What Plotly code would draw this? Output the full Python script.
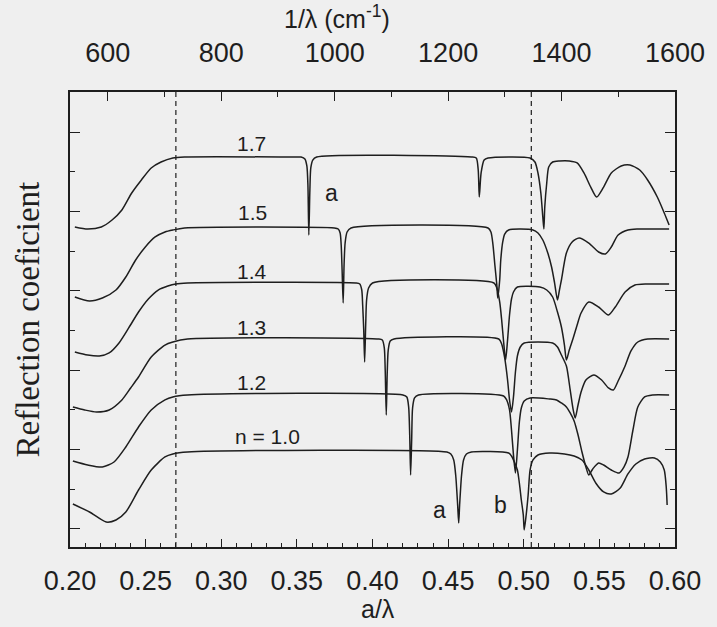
import plotly.graph_objects as go

# ---------------- data ----------------
# bottom axis: normalised frequency a/lambda ; y: reflection (arbitrary offset units)
x_n17 = [0.2032, 0.2117, 0.2207, 0.2278, 0.2343, 0.2408, 0.2472, 0.2537, 0.2602, 0.2680, 0.2757,
         0.3489, 0.3528, 0.3553, 0.3566, 0.3573, 0.3579, 0.3586, 0.3592, 0.3605, 0.3631,
         0.4654, 0.4686, 0.4699, 0.4706, 0.4718, 0.4738, 0.4764,
         0.5042, 0.5074, 0.5094, 0.5113, 0.5126, 0.5133, 0.5139, 0.5152, 0.5165, 0.5191, 0.5236,
         0.5301, 0.5353, 0.5398, 0.5443, 0.5482, 0.5528, 0.5579, 0.5644, 0.5702, 0.5767, 0.5819,
         0.5883, 0.5929, 0.5961]
y_n17 = [3.804, 3.778, 3.804, 3.892, 4.018, 4.232, 4.396, 4.547, 4.622, 4.673, 4.685,
         4.685, 4.685, 4.660, 4.572, 4.333, 3.703, 4.270, 4.547, 4.647, 4.685,
         4.685, 4.673, 4.521, 4.181, 4.484, 4.647, 4.673,
         4.673, 4.622, 4.484, 4.232, 3.930, 3.778, 4.055, 4.358, 4.559, 4.622, 4.635,
         4.635, 4.610, 4.484, 4.307, 4.181, 4.307, 4.484, 4.572, 4.584, 4.521, 4.396,
         4.181, 3.980, 3.829]

x_n15 = [0.2032, 0.2129, 0.2214, 0.2304, 0.2369, 0.2434, 0.2498, 0.2563, 0.2628, 0.2680, 0.2757,
         0.3748, 0.3773, 0.3786, 0.3793, 0.3799, 0.3806, 0.3812, 0.3819, 0.3832, 0.3858,
         0.4764, 0.4783, 0.4796, 0.4809, 0.4822, 0.4828, 0.4841, 0.4848, 0.4861, 0.4874, 0.4900,
         0.5061, 0.5094, 0.5126, 0.5159, 0.5184, 0.5204, 0.5223, 0.5236, 0.5249, 0.5282, 0.5320,
         0.5366, 0.5430, 0.5495, 0.5540, 0.5579, 0.5624, 0.5689, 0.5754, 0.5961]
y_n15 = [2.922, 2.872, 2.909, 3.010, 3.174, 3.388, 3.552, 3.678, 3.741, 3.766, 3.791,
         3.791, 3.778, 3.728, 3.577, 3.262, 2.846, 3.325, 3.602, 3.741, 3.791,
         3.791, 3.741, 3.589, 3.325, 3.073, 2.909, 3.136, 3.388, 3.615, 3.715, 3.766,
         3.766, 3.728, 3.640, 3.476, 3.300, 3.098, 2.884, 3.010, 3.136, 3.476, 3.615,
         3.665, 3.602, 3.489, 3.464, 3.552, 3.703, 3.766, 3.778, 3.778]

x_n14 = [0.2032, 0.2117, 0.2194, 0.2259, 0.2324, 0.2388, 0.2453, 0.2518, 0.2583, 0.2647, 0.2699, 0.2777,
         0.3890, 0.3916, 0.3929, 0.3935, 0.3942, 0.3948, 0.3955, 0.3961, 0.3974, 0.4000,
         0.4803, 0.4822, 0.4841, 0.4854, 0.4867, 0.4880, 0.4893, 0.4906, 0.4919, 0.4932, 0.4958,
         0.5107, 0.5152, 0.5191, 0.5223, 0.5249, 0.5269, 0.5282, 0.5301, 0.5327, 0.5353, 0.5379,
         0.5430, 0.5495, 0.5560, 0.5605, 0.5670, 0.5735, 0.5819, 0.5961]
y_n14 = [2.229, 2.191, 2.179, 2.217, 2.343, 2.532, 2.733, 2.897, 3.010, 3.060, 3.086, 3.098,
         3.098, 3.086, 3.010, 2.821, 2.506, 2.103, 2.569, 2.884, 3.035, 3.098,
         3.098, 3.035, 2.859, 2.632, 2.355, 2.128, 2.380, 2.695, 2.897, 2.985, 3.048,
         3.048, 3.010, 2.922, 2.733, 2.544, 2.317, 2.128, 2.254, 2.406, 2.569, 2.720,
         2.859, 2.796, 2.695, 2.796, 2.985, 3.073, 3.086, 3.086]

x_n13 = [0.2019, 0.2097, 0.2175, 0.2259, 0.2343, 0.2401, 0.2453, 0.2537, 0.2628, 0.2680, 0.2777,
         0.4039, 0.4065, 0.4078, 0.4084, 0.4091, 0.4097, 0.4104, 0.4117, 0.4142,
         0.4835, 0.4854, 0.4874, 0.4893, 0.4906, 0.4919, 0.4932, 0.4945, 0.4958, 0.4977, 0.5003,
         0.5191, 0.5223, 0.5249, 0.5282, 0.5307, 0.5327, 0.5340, 0.5359, 0.5379, 0.5411, 0.5463,
         0.5515, 0.5560, 0.5592, 0.5624, 0.5670, 0.5709, 0.5754, 0.5819, 0.5961]
y_n13 = [1.537, 1.499, 1.474, 1.499, 1.625, 1.776, 1.914, 2.166, 2.317, 2.355, 2.393,
         2.393, 2.380, 2.280, 2.003, 1.436, 1.940, 2.254, 2.368, 2.393,
         2.393, 2.330, 2.154, 1.877, 1.625, 1.474, 1.663, 1.977, 2.179, 2.292, 2.343,
         2.343, 2.292, 2.191, 2.053, 1.751, 1.499, 1.398, 1.562, 1.725, 1.877, 1.940,
         1.877, 1.776, 1.751, 1.864, 2.053, 2.242, 2.355, 2.393, 2.393]

x_n12 = [0.2019, 0.2117, 0.2214, 0.2291, 0.2369, 0.2453, 0.2537, 0.2628, 0.2680, 0.2777,
         0.4201, 0.4227, 0.4239, 0.4246, 0.4252, 0.4259, 0.4265, 0.4278, 0.4304,
         0.4867, 0.4887, 0.4906, 0.4919, 0.4932, 0.4945, 0.4958, 0.4971, 0.4984, 0.5003, 0.5042,
         0.5171, 0.5217, 0.5249, 0.5282, 0.5307, 0.5333, 0.5359, 0.5385, 0.5411, 0.5430, 0.5456,
         0.5495, 0.5528, 0.5579, 0.5631, 0.5663, 0.5689, 0.5722, 0.5754, 0.5799, 0.5851, 0.5961]
y_n12 = [0.856, 0.806, 0.781, 0.844, 1.033, 1.285, 1.499, 1.625, 1.663, 1.688,
         1.688, 1.663, 1.537, 1.184, 0.680, 1.121, 1.524, 1.650, 1.688,
         1.675, 1.625, 1.499, 1.247, 0.932, 0.705, 0.995, 1.348, 1.524, 1.612, 1.650,
         1.637, 1.625, 1.587, 1.537, 1.461, 1.360, 1.184, 0.970, 0.781, 0.680, 0.756,
         0.831, 0.806, 0.743, 0.705, 0.781, 0.907, 1.247, 1.537, 1.663, 1.688, 1.688]

x_n10 = [0.2019, 0.2129, 0.2239, 0.2304, 0.2369, 0.2453, 0.2537, 0.2628, 0.2680, 0.2777,
         0.4492, 0.4518, 0.4537, 0.4550, 0.4563, 0.4570, 0.4576, 0.4589, 0.4602, 0.4621, 0.4654,
         0.4900, 0.4919, 0.4938, 0.4958, 0.4971, 0.4984, 0.4997, 0.5003, 0.5016, 0.5029, 0.5042,
         0.5061, 0.5094, 0.5171, 0.5269, 0.5333, 0.5385, 0.5430, 0.5476, 0.5528, 0.5579, 0.5638,
         0.5689, 0.5741, 0.5799, 0.5864, 0.5903, 0.5929, 0.5942, 0.5948]
y_n10 = [0.315, 0.214, 0.088, 0.113, 0.214, 0.491, 0.743, 0.907, 0.945, 0.970,
         0.970, 0.945, 0.869, 0.680, 0.302, 0.076, 0.302, 0.680, 0.869, 0.945, 0.970,
         0.957, 0.919, 0.844, 0.743, 0.579, 0.365, 0.176, -0.013, 0.176, 0.428, 0.743,
         0.869, 0.932, 0.957, 0.945, 0.919, 0.869, 0.743, 0.579, 0.466, 0.441, 0.516,
         0.693, 0.819, 0.882, 0.894, 0.844, 0.743, 0.529, 0.302]

series_x = [x_n17, x_n15, x_n14, x_n13, x_n12, x_n10]
series_y = [y_n17, y_n15, y_n14, y_n13, y_n12, y_n10]

# curve labels and their positions (data coords)
label_text = ["1.7", "1.5", "1.4", "1.3", "1.2", "n = 1.0"]
label_x = [0.3197, 0.3204, 0.3204, 0.3197, 0.3197, 0.3307]
label_y = [4.861, 3.980, 3.237, 2.544, 1.839, 1.171]

mode_text = ["a", "a", "b"]
mode_x = [0.3728, 0.4440, 0.4848]
mode_y = [4.232, 0.239, 0.302]

dashed_x = [0.270, 0.505]

x_range = [0.20, 0.60]
y_range = [-0.227, 5.504]
lattice_cm = 3.75e-4          # a (cm): 1/lambda = (a/lambda)/a
top_range = [v / lattice_cm for v in x_range]

# ---------------- figure ----------------
INK = "#1e1e1e"
BG = "#efefef"
SANS = "Liberation Sans, Arial, sans-serif"

fig = go.Figure()
for xs, ys in zip(series_x, series_y):
    fig.add_trace(go.Scatter(x=xs, y=ys, mode="lines",
                             line=dict(color=INK, width=1.5, shape="spline", smoothing=0.7),
                             showlegend=False, hoverinfo="skip"))

# helper traces so the top and right axes exist
fig.add_trace(go.Scatter(x=top_range, y=[None, None], xaxis="x2", yaxis="y",
                         mode="lines", showlegend=False, hoverinfo="skip"))
fig.add_trace(go.Scatter(x=x_range, y=[None, None], xaxis="x", yaxis="y2",
                         mode="lines", showlegend=False, hoverinfo="skip"))

for xd in dashed_x:
    fig.add_shape(type="line", xref="x", yref="paper", x0=xd, x1=xd, y0=0, y1=1,
                  line=dict(color=INK, width=1.2, dash="5px,4px"))

for t, xv, yv in zip(label_text, label_x, label_y):
    fig.add_annotation(x=xv, y=yv, text=t, showarrow=False,
                       font=dict(family=SANS, size=21, color=INK))
for t, xv, yv in zip(mode_text, mode_x, mode_y):
    fig.add_annotation(x=xv, y=yv, text=t, showarrow=False,
                       font=dict(family=SANS, size=23, color=INK))

# axis titles
fig.add_annotation(xref="paper", yref="paper", x=0.5097, y=0, yshift=-62,
                   xanchor="center", yanchor="middle",
                   text="a/λ", showarrow=False,
                   font=dict(family=SANS, size=25, color=INK))
fig.add_annotation(xref="paper", yref="paper", x=0.4417, y=1, yshift=75,
                   xanchor="center", yanchor="middle",
                   text="1/λ (cm<sup>-1</sup>)", showarrow=False,
                   font=dict(family=SANS, size=25, color=INK))
fig.add_annotation(xref="paper", yref="paper", x=0, xshift=-43, y=0.5, textangle=-90,
                   xanchor="center", yanchor="middle",
                   text="Reflection coeficient", showarrow=False,
                   font=dict(family="Liberation Serif, Times New Roman, serif", size=33, color=INK))

axis_common = dict(showline=True, linecolor=INK, linewidth=1.8, showgrid=False,
                   zeroline=False, ticks="inside", tickcolor=INK, tickwidth=1.3)

fig.update_layout(
    width=717, height=627,
    margin=dict(l=70, r=29, t=92, b=80),
    paper_bgcolor=BG, plot_bgcolor=BG,
    xaxis=dict(range=x_range, dtick=0.05, tick0=0.2, tickformat=".2f", ticklen=8,
               minor=dict(ticks="inside", dtick=0.01, ticklen=4, tickcolor=INK, tickwidth=1.2),
               tickfont=dict(family=SANS, size=27, color=INK), ticklabelstandoff=9,
               **axis_common),
    xaxis2=dict(range=top_range, overlaying="x", side="top", dtick=200, tick0=0, ticklen=9,
                minor=dict(ticks="inside", dtick=100, ticklen=5, tickcolor=INK, tickwidth=1.2),
                tickfont=dict(family=SANS, size=27, color=INK), ticklabelstandoff=17,
                **axis_common),
    yaxis=dict(range=y_range, dtick=1, tick0=0, ticklen=10, showticklabels=False,
               minor=dict(ticks="inside", dtick=0.5, ticklen=5, tickcolor=INK, tickwidth=1.2),
               **axis_common),
    yaxis2=dict(range=y_range, overlaying="y", side="right", dtick=1, tick0=0, ticklen=10,
                showticklabels=False,
                minor=dict(ticks="inside", dtick=0.5, ticklen=5, tickcolor=INK, tickwidth=1.2),
                **axis_common),
)

fig.write_html("out.html")
